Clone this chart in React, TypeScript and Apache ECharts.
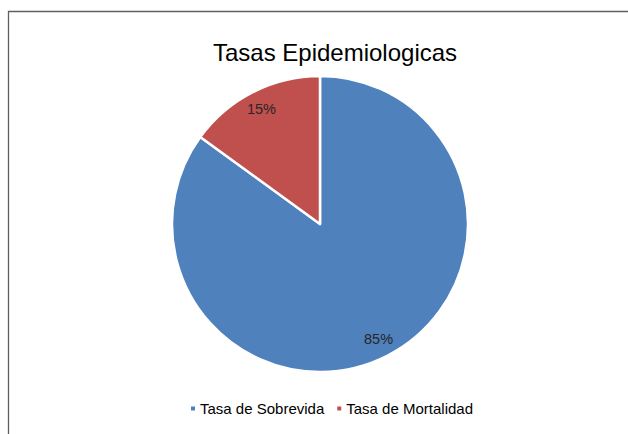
import React, { useEffect, useRef } from "react";
import * as echarts from "echarts";

const title = "Tasas Epidemiologicas";
const categories = ["Tasa de Sobrevida", "Tasa de Mortalidad"];
const values = [85, 15];
const colors = ["#4F81BD", "#C0504D"];

export default function App() {
  const ref = useRef<HTMLDivElement>(null);
  useEffect(() => {
    if (!ref.current) return;
    const chart = echarts.init(ref.current, undefined, { renderer: "svg" });
    const data = categories.map((name, i) => ({
      name,
      value: values[i],
      itemStyle: { color: colors[i] },
    }));
    const font = "'Liberation Sans', Arial, sans-serif";
    chart.setOption({
      animation: false,
      backgroundColor: "#ffffff",
      graphic: [
        {
          type: "rect",
          shape: { x: 8.5, y: 11.5, width: 800, height: 600 },
          style: { fill: "none", stroke: "#5f5f5f", lineWidth: 1.3 },
          silent: true,
        },
        {
          type: "text",
          x: 335,
          y: 52,
          style: {
            text: title,
            fill: "#000000",
            fontSize: 24,
            fontFamily: font,
            textAlign: "center",
            textVerticalAlign: "middle",
          },
        },
      ],
      legend: {
        data: categories.map((name, i) => ({ name, itemStyle: { color: colors[i] } })),
        left: 184,
        top: 396,
        icon: "rect",
        itemWidth: 6,
        itemHeight: 6,
        itemGap: 11,
        textStyle: { fontSize: 15, fontFamily: font, color: "#000000", padding: [0, 0, 0, -1] },
      },
      series: [
        {
          type: "pie",
          center: [320, 224],
          radius: [0, 148],
          startAngle: 90,
          clockwise: true,
          data,
          label: { show: false },
          labelLine: { show: false },
          itemStyle: { borderColor: "#ffffff", borderWidth: 2.5 },
          emphasis: { disabled: true },
        },
        {
          type: "pie",
          center: [320, 224],
          radius: [104, 148],
          startAngle: 90,
          clockwise: true,
          silent: true,
          data: categories.map((name, i) => ({
            name,
            value: values[i],
            itemStyle: { color: "rgba(0,0,0,0)" },
          })),
          itemStyle: { borderWidth: 0 },
          label: {
            show: true,
            position: "inside",
            formatter: "{c}%",
            fontSize: 14.5,
            fontFamily: font,
            color: "#262626",
          },
          labelLine: { show: false },
          emphasis: { disabled: true },
        },
      ],
    });
    return () => chart.dispose();
  }, []);
  return (
    <div
      ref={ref}
      style={{ position: "absolute", left: 0, top: 0, width: 628, height: 434 }}
    />
  );
}
